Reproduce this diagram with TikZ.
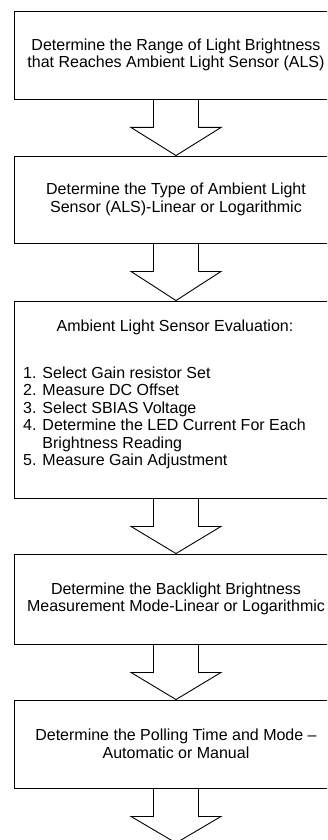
\documentclass[tikz,border=0pt]{standalone}
\usepackage{fontspec}
\setmainfont{Liberation Sans}
\usetikzlibrary{calc}
\begin{document}
\begin{tikzpicture}[x=1pt,y=-1pt,
  box/.style={draw=black,line width=0.9pt,rectangle,minimum width=324pt,inner sep=0pt,align=center,
    font=\fontsize{16}{17.6}\selectfont},
  arr/.style={draw=black,line width=0.9pt,line join=miter},
  txt/.style={inner sep=0pt,font=\fontsize{16}{17.5}\selectfont}]
\useasboundingbox (0,0) rectangle (327,840);
\clip (0,0) rectangle (327,840);
\node[box,minimum height=88pt] (b1) at (176,55) {Determine the Range of Light Brightness\\that Reaches Ambient Light Sensor (ALS)};
\node[box,minimum height=87pt] (b2) at (176,199.5) {Determine the Type of Ambient Light\\Sensor (ALS)-Linear or Logarithmic};
\node[box,minimum height=197pt] (b3) at (176,399.5) {};
\node[box,minimum height=90pt] (b4) at (176,599) {Determine the Backlight Brightness\\Measurement Mode-Linear or Logarithmic};
\node[box,minimum height=88pt] (b5) at (176,744) {Determine the Polling Time and Mode --\\Automatic or Manual};
\coordinate (end) at (176,843);
\node[txt,anchor=base] (t3) at (175,331) {Ambient Light Sensor Evaluation:};
\node[txt,anchor=base west] (l3) at (23,378) {\fontsize{16}{17.5}\selectfont\begin{tabular}[t]{@{}l@{ }l@{}}
1.&Select Gain resistor Set\\
2.&Measure DC Offset\\
3.&Select SBIAS Voltage\\
4.&Determine the LED Current For Each\\
&Brightness Reading\\
5.&Measure Gain Adjustment
\end{tabular}};
\newcommand{\flowarrow}[2]{%
  \draw[arr] ($(#1.south)+(-22.5,0)$) -- ($(#1.south)+(-22.5,28)$) -- ($(#1.south)+(-45,28)$)
    -- (#2) -- ($(#1.south)+(45,28)$) -- ($(#1.south)+(22.5,28)$) -- ($(#1.south)+(22.5,0)$);}
\flowarrow{b1}{b2.north}
\flowarrow{b2}{b3.north}
\flowarrow{b3}{b4.north}
\flowarrow{b4}{b5.north}
\flowarrow{b5}{end}
\end{tikzpicture}
\end{document}
